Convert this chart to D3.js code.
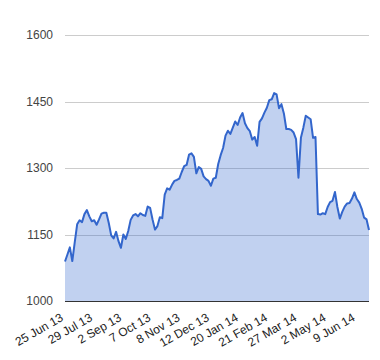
<!DOCTYPE html>
<html>
<head>
<meta charset="utf-8">
<script src="https://cdn.jsdelivr.net/npm/d3@7"></script>
<style>
  html, body { margin: 0; padding: 0; background: #fff; }
  svg { display: block; }
  text { font-family: Arial, "Liberation Sans", sans-serif; }
</style>
</head>
<body>
<svg id="chart" width="380" height="360"></svg>
<script>
// Closing values (about every 2 trading days), 25 Jun 13 – mid Jun 14
const values = [
  1089, 1105, 1121, 1090, 1132, 1173, 1182, 1178, 1196, 1205,
  1191, 1180, 1182, 1172, 1184, 1197, 1199, 1199, 1176, 1148,
  1141, 1156, 1135, 1120, 1150, 1140, 1158, 1183, 1193, 1196,
  1191, 1198, 1194, 1192, 1213, 1210, 1184, 1161, 1169, 1189,
  1187, 1240, 1254, 1251, 1262, 1271, 1273, 1276, 1291, 1304,
  1307, 1330, 1333, 1325, 1288, 1302, 1298, 1281, 1275, 1271,
  1260, 1276, 1278, 1309, 1329, 1345, 1373, 1384, 1377, 1391,
  1405, 1397, 1414, 1424, 1401, 1390, 1383, 1364, 1370, 1350,
  1404, 1412, 1425, 1436, 1453, 1455, 1469, 1466, 1435, 1444,
  1423, 1388, 1388, 1386, 1380, 1365, 1278, 1368, 1391, 1418,
  1414, 1410, 1368, 1370, 1196, 1195, 1198, 1196, 1212, 1223,
  1226, 1246, 1212, 1186, 1201, 1213, 1220, 1221, 1231, 1245,
  1230, 1222, 1208, 1188, 1184, 1160
];
// Category tick labels and the data index where each sits
const tickLabels = ["25 Jun 13", "29 Jul 13", "2 Sep 13", "7 Oct 13", "8 Nov 13",
  "12 Dec 13", "20 Jan 14", "21 Feb 14", "27 Mar 14", "2 May 14", "9 Jun 14"];
const tickIndex = [0, 12, 24, 36, 48, 60, 72, 84, 96, 108, 120];
const yTicks = [1000, 1150, 1300, 1450, 1600];

const svg = d3.select("#chart");
const plotL = 65, plotR = 369, plotT = 35, plotB = 301;

const x = d3.scaleLinear().domain([0, values.length - 1]).range([plotL, plotR]);
const y = d3.scaleLinear().domain([1000, 1600]).range([plotB, plotT]);

// gridlines
svg.append("g").selectAll("line").data(yTicks.filter(d => d !== 1000)).join("line")
  .attr("x1", plotL).attr("x2", plotR)
  .attr("y1", d => Math.round(y(d)) + 0.5).attr("y2", d => Math.round(y(d)) + 0.5)
  .attr("stroke", "#cccccc").attr("stroke-width", 1);

// y labels
svg.append("g").selectAll("text").data(yTicks).join("text")
  .attr("x", 53).attr("y", d => y(d) + 4)
  .attr("text-anchor", "end")
  .attr("font-size", 12).attr("fill", "#444")
  .text(d => d);

// area
const area = d3.area().x((d, i) => x(i)).y0(y(1000)).y1(d => y(d));
svg.append("path").datum(values)
  .attr("d", area)
  .attr("fill", "#3366cc").attr("fill-opacity", 0.3);

// line
const line = d3.line().x((d, i) => x(i)).y(d => y(d));
svg.append("path").datum(values)
  .attr("d", line)
  .attr("fill", "none").attr("stroke", "#3366cc")
  .attr("stroke-width", 2).attr("stroke-linejoin", "round");

// baseline
svg.append("line")
  .attr("x1", plotL).attr("x2", plotR)
  .attr("y1", Math.round(y(1000)) + 0.5).attr("y2", Math.round(y(1000)) + 0.5)
  .attr("stroke", "#333").attr("stroke-width", 1);

// x labels
svg.append("g").selectAll("text").data(tickLabels).join("text")
  .attr("transform", (d, i) => `translate(${x(tickIndex[i]) - 1},${320}) rotate(-30)`)
  .attr("text-anchor", "end")
  .attr("font-size", 12).attr("fill", "#222")
  .text(d => d);
</script>
</body>
</html>
